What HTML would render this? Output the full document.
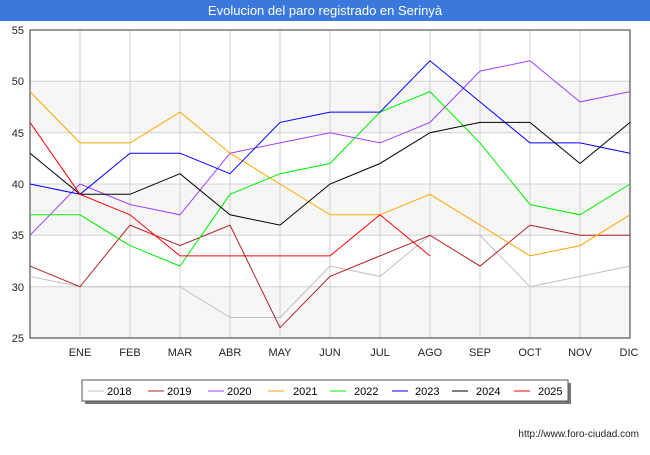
<!DOCTYPE html>
<html><head><style>
body{margin:0;background:#fff;font-family:"Liberation Sans","DejaVu Sans",sans-serif;}
</style></head><body>
<svg width="650" height="450" xmlns="http://www.w3.org/2000/svg" font-family="Liberation Sans, DejaVu Sans, sans-serif">
<rect width="650" height="450" fill="#fff"/>
<rect x="0" y="0" width="650" height="21" fill="#3b78db"/>
<text x="325" y="15" text-anchor="middle" font-size="13" fill="#fff">Evolucion del paro registrado en Serinyà</text>
<g fill="#f6f6f6">
<rect x="30" y="286.7" width="600" height="51.3"/>
<rect x="30" y="184" width="600" height="51.3"/>
<rect x="30" y="81.3" width="600" height="51.3"/>
</g>
<g stroke="#d0d0d0" stroke-width="1">
<line x1="80" y1="30" x2="80" y2="338"/><line x1="130" y1="30" x2="130" y2="338"/><line x1="180" y1="30" x2="180" y2="338"/><line x1="230" y1="30" x2="230" y2="338"/><line x1="280" y1="30" x2="280" y2="338"/><line x1="330" y1="30" x2="330" y2="338"/><line x1="380" y1="30" x2="380" y2="338"/><line x1="430" y1="30" x2="430" y2="338"/><line x1="480" y1="30" x2="480" y2="338"/><line x1="530" y1="30" x2="530" y2="338"/><line x1="580" y1="30" x2="580" y2="338"/>
<line x1="30" y1="81.3" x2="630" y2="81.3"/><line x1="30" y1="132.7" x2="630" y2="132.7"/><line x1="30" y1="184" x2="630" y2="184"/><line x1="30" y1="235.3" x2="630" y2="235.3"/><line x1="30" y1="286.7" x2="630" y2="286.7"/>
</g>
<rect x="30" y="30" width="600" height="308" fill="none" stroke="#333" stroke-width="1"/>
<g font-size="11" fill="#222" text-anchor="end">
<text x="24" y="34">55</text><text x="24" y="85">50</text><text x="24" y="137">45</text><text x="24" y="188">40</text><text x="24" y="239">35</text><text x="24" y="291">30</text><text x="24" y="342">25</text>
</g>
<g font-size="11" fill="#222" text-anchor="middle">
<text x="80" y="356">ENE</text><text x="130" y="356">FEB</text><text x="180" y="356">MAR</text><text x="230" y="356">ABR</text><text x="280" y="356">MAY</text><text x="330" y="356">JUN</text><text x="380" y="356">JUL</text><text x="430" y="356">AGO</text><text x="480" y="356">SEP</text><text x="530" y="356">OCT</text><text x="580" y="356">NOV</text><text x="629" y="356">DIC</text>
</g>
<g fill="none" stroke-width="1">
<polyline stroke="#c0c0c0" points="30,276.4 80,286.7 130,286.7 180,286.7 230,317.5 280,317.5 330,266.1 380,276.4 430,235.3 480,235.3 530,286.7 580,276.4 630,266.1"/>
<polyline stroke="#b22222" points="30,266.1 80,286.7 130,225.1 180,245.6 230,225.1 280,327.7 330,276.4 380,255.9 430,235.3 480,266.1 530,225.1 580,235.3 630,235.3"/>
<polyline stroke="#a040ff" points="30,235.3 80,184 130,204.5 180,214.8 230,153.2 280,142.9 330,132.7 380,142.9 430,122.4 480,71.1 530,60.8 580,101.9 630,91.6"/>
<polyline stroke="#ffa500" points="30,91.6 80,142.9 130,142.9 180,112.1 230,153.2 280,184 330,214.8 380,214.8 430,194.3 480,225.1 530,255.9 580,245.6 630,214.8"/>
<polyline stroke="#00ee00" points="30,214.8 80,214.8 130,245.6 180,266.1 230,194.3 280,173.7 330,163.5 380,112.1 430,91.6 480,142.9 530,204.5 580,214.8 630,184"/>
<polyline stroke="#0000ff" points="30,184 80,194.3 130,153.2 180,153.2 230,173.7 280,122.4 330,112.1 380,112.1 430,60.8 480,101.9 530,142.9 580,142.9 630,153.2"/>
<polyline stroke="#000" points="30,153.2 80,194.3 130,194.3 180,173.7 230,214.8 280,225.1 330,184 380,163.5 430,132.7 480,122.4 530,122.4 580,163.5 630,122.4"/>
<polyline stroke="#ff0000" points="30,122.4 80,194.3 130,214.8 180,255.9 230,255.9 280,255.9 330,255.9 380,214.8 430,255.9"/>
</g>
<rect x="85" y="383" width="486" height="21" fill="#777"/>
<rect x="82" y="380" width="486" height="21" fill="#fff" stroke="#555"/>
<g font-size="11" fill="#000">
<line x1="88" y1="391" x2="104" y2="391" stroke="#c0c0c0"/><text x="107" y="395">2018</text>
<line x1="148" y1="391" x2="164" y2="391" stroke="#b22222"/><text x="167" y="395">2019</text>
<line x1="208" y1="391" x2="224" y2="391" stroke="#a040ff"/><text x="227" y="395">2020</text>
<line x1="268" y1="391" x2="284" y2="391" stroke="#ffa500"/><text x="293" y="395">2021</text>
<line x1="330" y1="391" x2="346" y2="391" stroke="#00ee00"/><text x="354" y="395">2022</text>
<line x1="392" y1="391" x2="408" y2="391" stroke="#0000ff"/><text x="415" y="395">2023</text>
<line x1="452" y1="391" x2="468" y2="391" stroke="#000"/><text x="476" y="395">2024</text>
<line x1="514" y1="391" x2="530" y2="391" stroke="#ff0000"/><text x="538" y="395">2025</text>
</g>
<text x="639" y="437" text-anchor="end" font-size="10" fill="#222">http://www.foro-ciudad.com</text>
</svg>
</body></html>
